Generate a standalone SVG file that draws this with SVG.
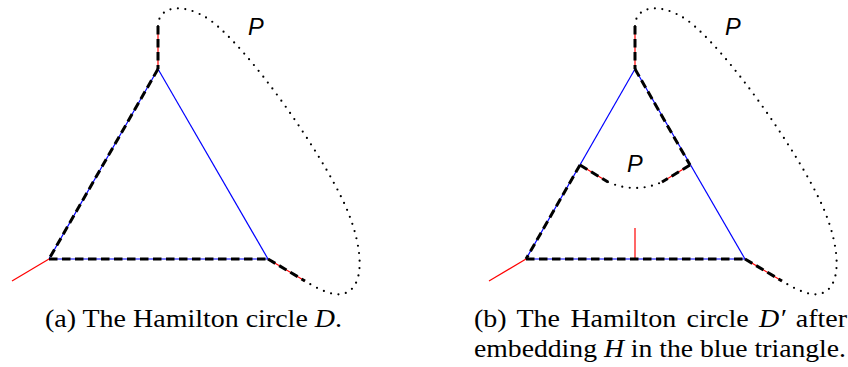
<svg xmlns="http://www.w3.org/2000/svg" width="848" height="367" viewBox="0 0 848 367">
<style>
.blue{stroke:#0000ff;stroke-width:1.2;fill:none}
.red{stroke:#ff0000;stroke-width:1.2;fill:none}
.dash{stroke:#000;stroke-width:3;stroke-dasharray:8.5 4.5;fill:none}
.dot{stroke:#000;stroke-width:2.2;stroke-linecap:round;stroke-dasharray:0 7.5;fill:none}
.lbl{font-family:"Liberation Sans",Arial,sans-serif;font-style:italic;font-size:23.5px;fill:#000}
.cap{font-family:"Liberation Serif","Times New Roman",serif;font-size:25px;fill:#000}
.it{font-style:italic}
</style>
<g id="connectors">
  <g id="left">
    <line class="blue" x1="158" y1="69" x2="49" y2="259"/>
    <line class="blue" x1="158" y1="69" x2="268" y2="259"/>
    <line class="blue" x1="49" y1="259" x2="268" y2="259"/>
    <line class="red" x1="158" y1="69" x2="158" y2="26"/>
    <line class="red" x1="49" y1="259" x2="12" y2="281"/>
    <line class="red" x1="268" y1="259" x2="305" y2="281"/>
    <line class="dash" x1="158" y1="26" x2="158" y2="69"/>
    <line class="dash" x1="158" y1="69" x2="49" y2="259"/>
    <line class="dash" x1="49" y1="259" x2="268" y2="259"/>
    <line class="dash" x1="268" y1="259" x2="305" y2="281"/>
    <path class="dot" d="M158,26 C158,8 180,0 210,20 C250,50 320,150 345,205 C365,250 365,290 342,294 C330,296 315,287 305,281"/>
  </g>
  <g id="right">
    <line class="blue" x1="635" y1="69" x2="526" y2="259"/>
    <line class="blue" x1="635" y1="69" x2="745" y2="259"/>
    <line class="blue" x1="526" y1="259" x2="745" y2="259"/>
    <line class="red" x1="635" y1="69" x2="635" y2="26"/>
    <line class="red" x1="526" y1="259" x2="489" y2="281"/>
    <line class="red" x1="745" y1="259" x2="782" y2="281"/>
    <line class="red" x1="580" y1="165" x2="608" y2="182"/>
    <line class="red" x1="690" y1="165" x2="662" y2="182"/>
    <line class="red" x1="635" y1="259" x2="635" y2="228"/>
    <line class="dash" x1="635" y1="26" x2="635" y2="69"/>
    <line class="dash" x1="635" y1="69" x2="690" y2="165"/>
    <line class="dash" x1="580" y1="165" x2="526" y2="259"/>
    <line class="dash" x1="526" y1="259" x2="745" y2="259"/>
    <line class="dash" x1="745" y1="259" x2="782" y2="281"/>
    <line class="dash" x1="580" y1="165" x2="608" y2="182"/>
    <line class="dash" x1="690" y1="165" x2="662" y2="182"/>
    <path class="dot" d="M635,26 C635,8 657,0 687,20 C727,50 797,150 822,205 C842,250 842,290 819,294 C807,296 792,287 782,281"/>
    <path class="dot" d="M608,182 Q635,194 662,182"/>
  </g>
</g>
<g id="labels">
  <text class="lbl" x="248" y="35">P</text>
  <text class="lbl" x="725" y="35">P</text>
  <text class="lbl" x="627" y="172">P</text>
</g>
<g id="captions">
  <text class="cap" x="45" y="327" textLength="297" lengthAdjust="spacingAndGlyphs">(a) The Hamilton circle <tspan class="it">D</tspan>.</text>
  <text class="cap" x="474" y="327" textLength="373" lengthAdjust="spacingAndGlyphs" word-spacing="3">(b) The Hamilton circle <tspan class="it">D′</tspan> after</text>
  <text class="cap" x="474" y="357" textLength="372" lengthAdjust="spacingAndGlyphs">embedding <tspan class="it">H</tspan> in the blue triangle.</text>
</g>
</svg>
